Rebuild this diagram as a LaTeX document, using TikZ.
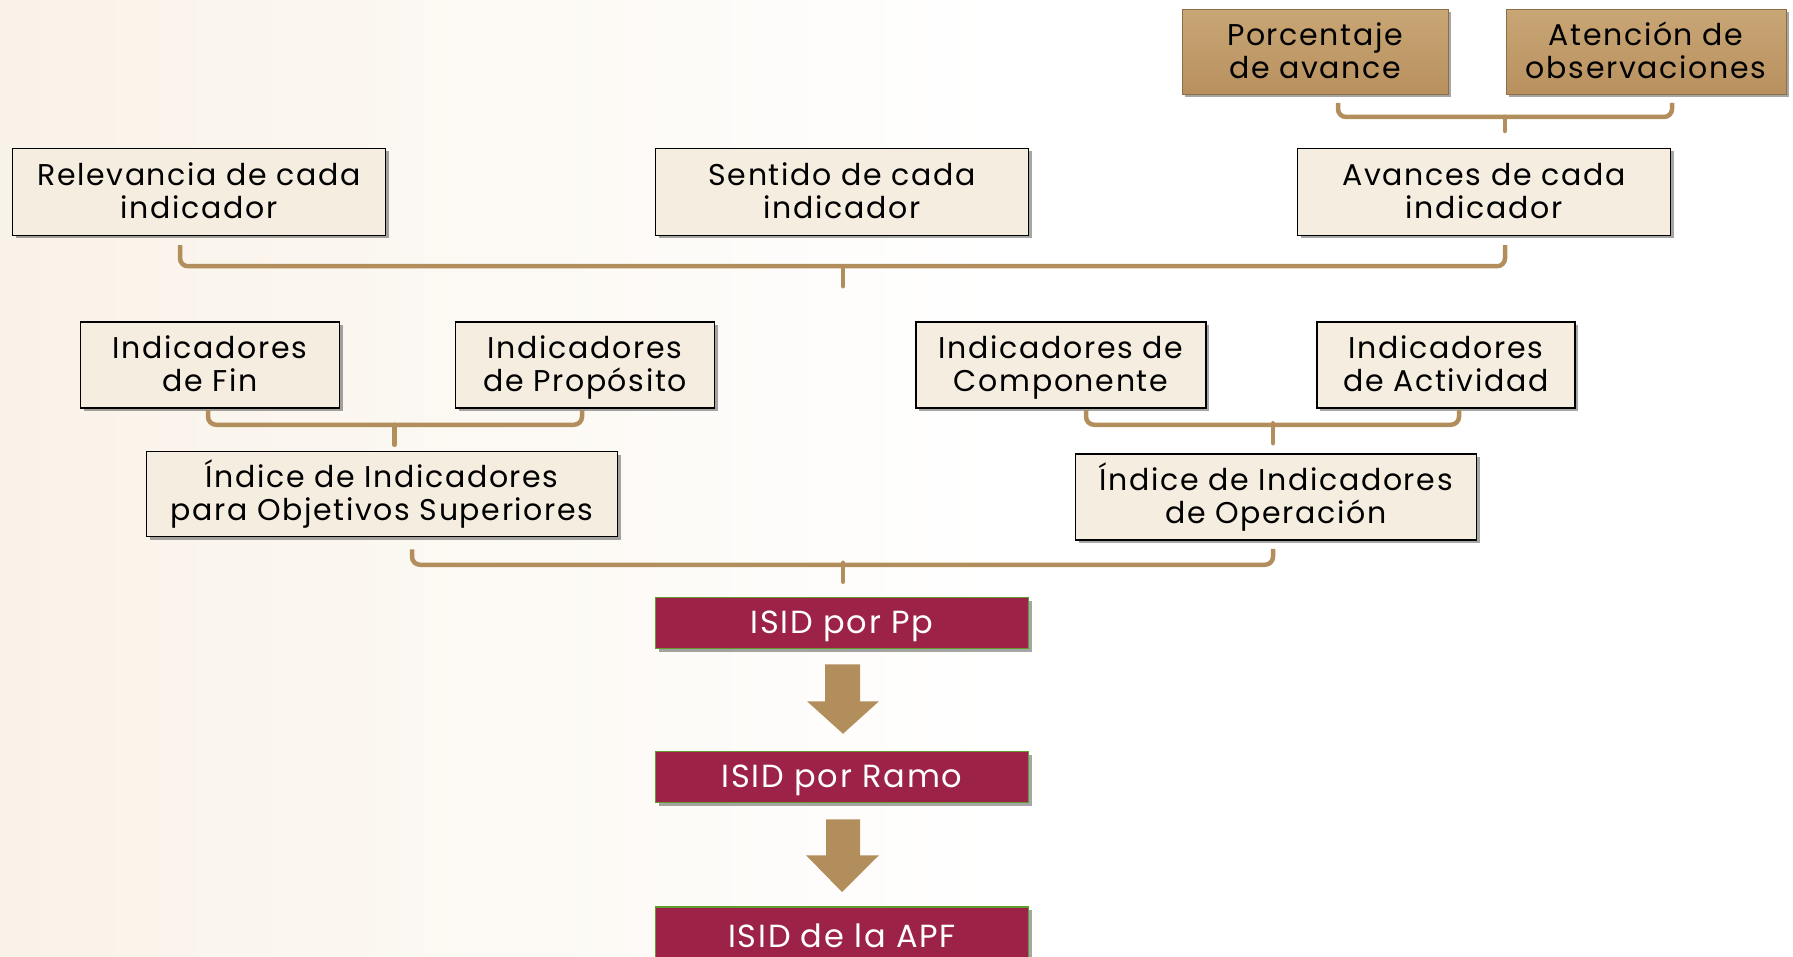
\documentclass[tikz,border=0pt]{standalone}
\usepackage{fontspec}
\setmainfont[LetterSpace=5.5]{Poppins}
\usetikzlibrary{shadows,calc}
\definecolor{creamc}{HTML}{F5EDDF}
\definecolor{goldl}{HTML}{C9A676}
\definecolor{goldd}{HTML}{B8905E}
\definecolor{goldb}{HTML}{8E6E42}
\definecolor{maroonc}{HTML}{9C2248}
\definecolor{greenb}{HTML}{5E9E2E}
\definecolor{bracec}{HTML}{B38E5D}
\definecolor{bgc}{HTML}{F9F2E8}
\newcommand\twol[2]{#1\vphantom{Íp}\\#2\vphantom{Íp}}
\newcommand\boxfont{\fontsize{30}{33}\selectfont\lineskiplimit-100pt\relax\lineskip0pt\relax}
\tikzset{
  base/.style={draw, line width=1.5pt, align=center, inner sep=0pt,
    font=\boxfont,
    drop shadow={shadow xshift=3pt, shadow yshift=-3pt, opacity=0.35, fill=black}},
  cream/.style={base, fill=creamc, draw=black},
  gold/.style={base, top color=goldl, bottom color=goldd, draw=goldb, line width=1pt},
  isid/.style={base, fill=maroonc, draw=greenb, text=white, font=\fontsize{32}{36}\selectfont},
  brace/.style={draw=bracec, line width=4.5pt, rounded corners=8pt},
  stem/.style={draw=bracec, line width=4.5pt, line cap=round},
  bigarrow/.style={fill=bracec, draw=none}
}
\begin{document}
\begin{tikzpicture}[x=1pt,y=-1pt]
\useasboundingbox (0,0) rectangle (1793,957);
\shade[left color=bgc, right color=white] (0,0) rectangle (1000,957);

% top row
\node[gold, minimum width=266pt, minimum height=85pt] (porc) at (1315,52) {\twol{Porcentaje}{de avance}};
\node[gold, minimum width=280pt, minimum height=85pt] (aten) at (1646,52) {\twol{Atención de}{observaciones}};

% second row
\node[cream, minimum width=373pt, minimum height=87pt] (rel) at (199,192) {\twol{Relevancia de cada}{indicador}};
\node[cream, minimum width=373pt, minimum height=87pt] (sen) at (842,192) {\twol{Sentido de cada}{indicador}};
\node[cream, minimum width=373pt, minimum height=87pt] (ava) at (1484,192) {\twol{Avances de cada}{indicador}};

% third row
\node[cream, minimum width=259pt, minimum height=86pt] (fin) at (210,365) {\twol{Indicadores}{de Fin}};
\node[cream, minimum width=259pt, minimum height=86pt] (pro) at (585,365) {\twol{Indicadores}{de Propósito}};
\node[cream, minimum width=290pt, minimum height=86pt] (com) at (1061,365) {\twol{Indicadores de}{Componente}};
\node[cream, minimum width=258pt, minimum height=86pt] (act) at (1446,365) {\twol{Indicadores}{de Actividad}};

% fourth row
\node[cream, minimum width=471pt, minimum height=85pt] (ios) at (382,494) {\twol{Índice de Indicadores}{para Objetivos Superiores}};
\node[cream, minimum width=401pt, minimum height=86pt] (iop) at (1276,497) {\twol{Índice de Indicadores}{de Operación}};

% ISID
\node[isid, minimum width=373pt, minimum height=51pt] (pp) at (842,623) {ISID por Pp\vphantom{Íp}};
\node[isid, minimum width=373pt, minimum height=51pt] (ramo) at (842,777) {ISID por Ramo\vphantom{Íp}};
\node[isid, minimum width=373pt, minimum height=60pt, anchor=north] (apf) at (842,906) {\raisebox{5pt}{ISID de la APF\vphantom{Íp}}};

% brackets
\draw[brace] ($(porc.south)+(23,8)$) |- ($(aten.south)+(26,22)$) -- ($(aten.south)+(26,8)$);
\draw[stem] ($(porc.south)+(190,22)$) -- ($(porc.south)+(190,36)$);

\draw[brace] ($(rel.south)+(-19,9)$) |- ($(ava.south)+(21,30)$) -- ($(ava.south)+(21,9)$);
\draw[stem] ($(sen.south)+(1,30)$) -- ($(sen.south)+(1,50)$);

\draw[brace] ($(fin.south)+(-2,1)$) |- ($(pro.south)+(-3,16)$) -- ($(pro.south)+(-3,1)$);
\draw[stem] ($(fin.south)!0.5!(pro.south)+(-3,16)$) -- ($(fin.south)!0.5!(pro.south)+(-3,36)$);

\draw[brace] ($(com.south)+(25,1)$) |- ($(act.south)+(13,16)$) -- ($(act.south)+(13,1)$);
\draw[stem] ($(iop.north)+(-3,-30)$) -- ($(iop.north)+(-3,-10)$);

\draw[brace] ($(ios.south)+(30,12)$) |- ($(iop.south)+(-3,24)$) -- ($(iop.south)+(-3,8)$);
\draw[stem] ($(pp.north)+(1,-34)$) -- ($(pp.north)+(1,-15)$);

% big arrows
\path[bigarrow] ($(pp.south)+(-17,15)$) -- ($(pp.south)+(18,15)$) -- ($(pp.south)+(18,52)$)
  -- ($(pp.south)+(37,52)$) -- ($(ramo.north)+(1,-17)$) -- ($(pp.south)+(-35,52)$)
  -- ($(pp.south)+(-17,52)$) -- cycle;
\path[bigarrow] ($(ramo.south)+(-16,16)$) -- ($(ramo.south)+(18,16)$) -- ($(ramo.south)+(18,52)$)
  -- ($(ramo.south)+(37,52)$) -- ($(apf.north)+(0,-14)$) -- ($(ramo.south)+(-36,52)$)
  -- ($(ramo.south)+(-16,52)$) -- cycle;
\end{tikzpicture}
\end{document}
